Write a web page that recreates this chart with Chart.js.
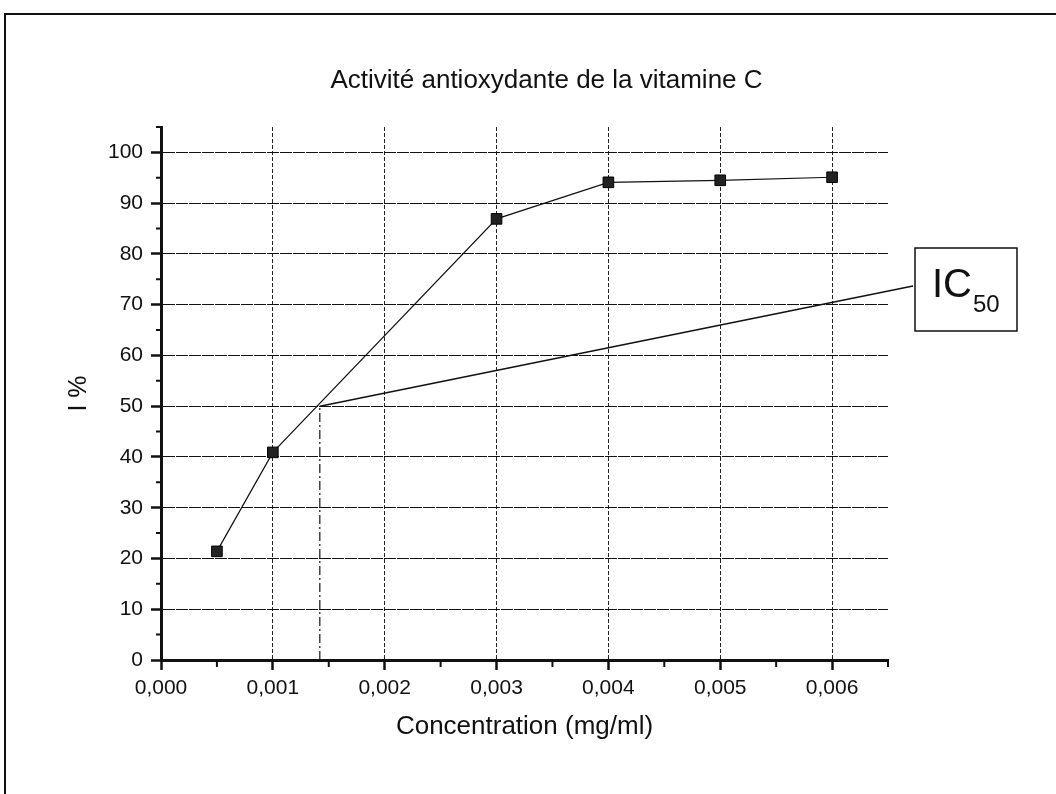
<!DOCTYPE html>
<html>
<head>
<meta charset="utf-8">
<script src="https://cdn.jsdelivr.net/npm/chart.js@4.4.0/dist/chart.umd.min.js"></script>
<style>
  html, body { margin: 0; padding: 0; background: #fff; overflow: hidden; width: 1056px; height: 794px; }
  #frame { position: absolute; left: 4px; top: 13px; width: 1200px; height: 1000px; border-left: 2px solid #111; border-top: 2px solid #111; }
  canvas { position: absolute; left: 0; top: 0; }
</style>
</head>
<body>
<div id="frame"></div>
<canvas id="c" width="1056" height="794"></canvas>
<script>
// ---- data ----
const concentrations = [0.0005, 0.001, 0.003, 0.004, 0.005, 0.006];
const inhibition = [21.4, 40.9, 86.9, 94.1, 94.5, 95.1];
const ic50Value = 0.00142;
const ic50Level = 50;
const xTickValues = [0, 0.001, 0.002, 0.003, 0.004, 0.005, 0.006];
const xMinorValues = [0.0005, 0.0015, 0.0025, 0.0035, 0.0045, 0.0055, 0.0065];
const yTickValues = [0, 10, 20, 30, 40, 50, 60, 70, 80, 90, 100];
const yMinorValues = [5, 15, 25, 35, 45, 55, 65, 75, 85, 95, 105];
const titleText = 'Activité antioxydante de la vitamine C';
const xTitle = 'Concentration (mg/ml)';
const yTitle = 'I %';
const annotationMain = 'IC';
const annotationSub = '50';

const FONT = '"Liberation Sans", Arial, sans-serif';

const chartTitle = {
  id: 'chartTitle',
  afterDraw(chart) {
    const { ctx, chartArea } = chart;
    ctx.save();
    ctx.fillStyle = '#111';
    ctx.font = '26px ' + FONT;
    ctx.textAlign = 'center';
    ctx.textBaseline = 'middle';
    ctx.fillText(titleText, (chartArea.left + chartArea.right) / 2 + 22, chartArea.top - 46);
    ctx.restore();
  }
};

const minorTicks = {
  id: 'minorTicks',
  afterDraw(chart) {
    const { ctx, chartArea, scales: { x, y } } = chart;
    ctx.save();
    ctx.strokeStyle = '#111';
    ctx.lineWidth = 2;
    ctx.beginPath();
    yMinorValues.forEach(v => {
      const py = y.getPixelForValue(v);
      ctx.moveTo(chartArea.left - 5, py);
      ctx.lineTo(chartArea.left, py);
    });
    xMinorValues.forEach(v => {
      const px = x.getPixelForValue(v);
      ctx.moveTo(px, chartArea.bottom);
      ctx.lineTo(px, chartArea.bottom + 7);
    });
    ctx.stroke();
    ctx.restore();
  }
};

const ic50Annotation = {
  id: 'ic50Annotation',
  afterDraw(chart) {
    const { ctx, chartArea, scales: { x, y } } = chart;
    const px = x.getPixelForValue(ic50Value);
    const py = y.getPixelForValue(ic50Level);
    const boxL = chartArea.right + 27;
    const boxT = chartArea.top + 121;
    const boxW = 102, boxH = 83;
    ctx.save();
    ctx.strokeStyle = '#111';
    ctx.lineWidth = 1.5;
    ctx.beginPath();
    ctx.moveTo(px, py);
    ctx.lineTo(boxL - 2, boxT + 38);
    ctx.stroke();
    ctx.lineWidth = 1.5;
    ctx.strokeRect(boxL, boxT, boxW, boxH);
    ctx.fillStyle = '#111';
    ctx.textBaseline = 'alphabetic';
    ctx.textAlign = 'left';
    ctx.font = '40px ' + FONT;
    ctx.fillText(annotationMain, boxL + 17, boxT + 49);
    const w = ctx.measureText(annotationMain).width;
    ctx.font = '24px ' + FONT;
    ctx.fillText(annotationSub, boxL + 17 + w + 1, boxT + 64);
    ctx.restore();
  }
};

new Chart(document.getElementById('c'), {
  type: 'line',
  data: {
    datasets: [
      {
        label: 'I %',
        data: concentrations.map((c, i) => ({ x: c, y: inhibition[i] })),
        borderColor: '#111',
        borderWidth: 1.2,
        pointStyle: 'rect',
        pointRadius: 7.5,
        pointBackgroundColor: '#222',
        pointBorderColor: '#000',
        pointBorderWidth: 1,
        tension: 0,
        fill: false
      },
      {
        label: 'IC50',
        data: [{ x: ic50Value, y: 0 }, { x: ic50Value, y: ic50Level }],
        borderColor: '#111',
        borderWidth: 1.2,
        borderDash: [9, 3, 2, 3],
        pointRadius: 0,
        fill: false
      }
    ]
  },
  options: {
    responsive: false,
    animation: false,
    layout: { padding: { left: 0, right: 168, top: 127, bottom: 0 } },
    plugins: {
      legend: { display: false },
      tooltip: { enabled: false },
      title: { display: false }
    },
    scales: {
      x: {
        type: 'linear',
        min: 0,
        max: 0.0065,
        afterFit: s => { s.height = 134; },
        afterBuildTicks: s => { s.ticks = xTickValues.map(v => ({ value: v })); },
        ticks: {
          color: '#111',
          font: { family: FONT, size: 21 },
          padding: 6,
          maxRotation: 0,
          callback: v => Number(v).toFixed(3).replace('.', ',')
        },
        grid: {
          color: '#222',
          lineWidth: 1,
          drawTicks: true,
          tickLength: 10,
          tickColor: '#111',
          tickWidth: 2.5
        },
        border: { display: true, color: '#111', width: 3, dash: [4, 2] },
        title: {
          display: true,
          text: xTitle,
          color: '#111',
          font: { family: FONT, size: 26 },
          padding: { top: 0, bottom: 52 }
        }
      },
      y: {
        type: 'linear',
        min: 0,
        max: 105,
        afterFit: s => { s.width = 161; },
        afterBuildTicks: s => { s.ticks = yTickValues.map(v => ({ value: v })); },
        ticks: {
          color: '#111',
          font: { family: FONT, size: 21 },
          padding: 8
        },
        grid: {
          color: '#111',
          lineWidth: 1,
          drawTicks: true,
          tickLength: 10,
          tickColor: '#111',
          tickWidth: 2.5
        },
        border: { display: true, color: '#111', width: 3, dash: [12, 1] },
        title: {
          display: true,
          text: yTitle,
          color: '#111',
          font: { family: FONT, size: 25 },
          padding: { top: 64, bottom: 0 }
        }
      }
    }
  },
  plugins: [chartTitle, minorTicks, ic50Annotation]
});
</script>
</body>
</html>
